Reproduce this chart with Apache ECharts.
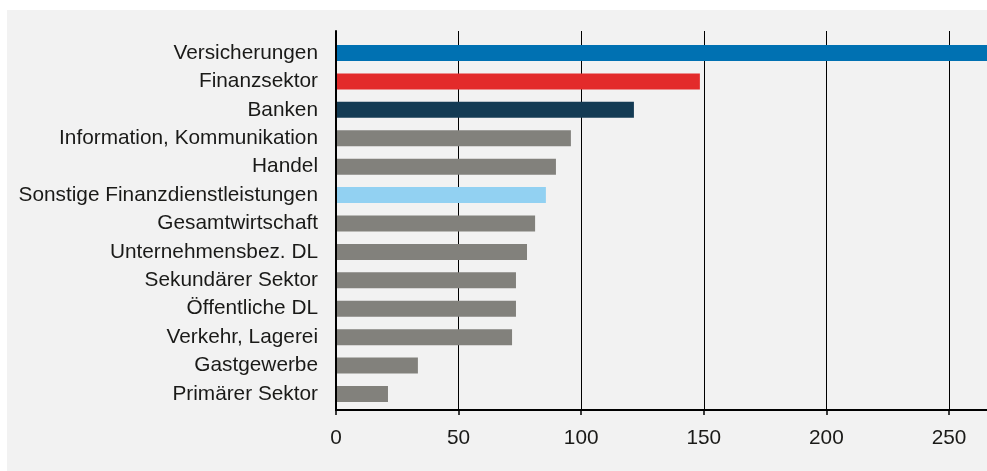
<!DOCTYPE html>
<html>
<head>
<meta charset="utf-8">
<script src="https://cdn.jsdelivr.net/npm/echarts@6/dist/echarts.min.js"></script>
<style>
  body { margin: 0; background: #ffffff; }
  #box { position: absolute; left: 7px; top: 10px; width: 980px; height: 461px; }
</style>
</head>
<body>
<div id="box"></div>
<script>
var categories = ['Versicherungen', 'Finanzsektor', 'Banken', 'Information, Kommunikation', 'Handel',
  'Sonstige Finanzdienstleistungen', 'Gesamtwirtschaft', 'Unternehmensbez. DL', 'Sekundärer Sektor',
  'Öffentliche DL', 'Verkehr, Lagerei', 'Gastgewerbe', 'Primärer Sektor']
var values = [280, 148.4, 121.5, 95.8, 89.7, 85.6, 81.2, 77.9, 73.4, 73.4, 71.8, 33.4, 21.2]
var xTicks = [0, 50, 100, 150, 200, 250]

// farbe je kategorie, sonst grau
var colorMap = {
  'Versicherungen': '#0071b2',
  'Finanzsektor': '#e32b2b',
  'Banken': '#143b54',
  'Sonstige Finanzdienstleistungen': '#92d1f2'
}

var txt = '#1a1a18'
var font = 'Liberation Sans'
var xMax = 265.5

var chart = echarts.init(document.getElementById('box'))
chart.setOption({
  backgroundColor: '#f2f2f2',
  animation: false,
  grid: [
    { left: 329, right: 0, top: 28.8, bottom: 62.8 },
    { left: 329, right: 0, top: 21, bottom: 61 }
  ],
  xAxis: [{
    gridIndex: 0,
    type: 'value',
    min: 0,
    max: xMax,
    show: false
  }, {
    gridIndex: 1,
    type: 'value',
    min: xTicks[0],
    max: xMax,
    interval: xTicks[1] - xTicks[0],
    axisLine: { show: true, lineStyle: { color: '#000', width: 2 } },
    axisTick: { show: true, length: 5, lineStyle: { color: '#000', width: 1.5 } },
    splitLine: { show: true, lineStyle: { color: '#000', width: 1 } },
    axisLabel: {
      showMaxLabel: false,
      margin: 18,
      color: txt,
      fontSize: 20.8,
      fontFamily: font,
      formatter: function (v) { return xTicks.indexOf(v) >= 0 ? String(v) : '' }
    }
  }],
  yAxis: [{
    gridIndex: 0,
    type: 'category',
    inverse: true,
    data: categories,
    axisLine: { show: false },
    axisTick: { show: false },
    axisLabel: { margin: 18, color: txt, fontSize: 20.8, fontFamily: font }
  }, {
    gridIndex: 1,
    type: 'value',
    z: 5,
    axisLine: { show: true, lineStyle: { color: '#000', width: 2 } },
    axisTick: { show: false },
    axisLabel: { show: false },
    splitLine: { show: false }
  }],
  series: [{
    type: 'bar',
    xAxisIndex: 0,
    yAxisIndex: 0,
    barWidth: 16,
    clip: true,
    data: values.map(function (v, i) {
      return { value: v, itemStyle: { color: colorMap[categories[i]] || '#82817c' } }
    })
  }]
})
</script>
</body>
</html>
